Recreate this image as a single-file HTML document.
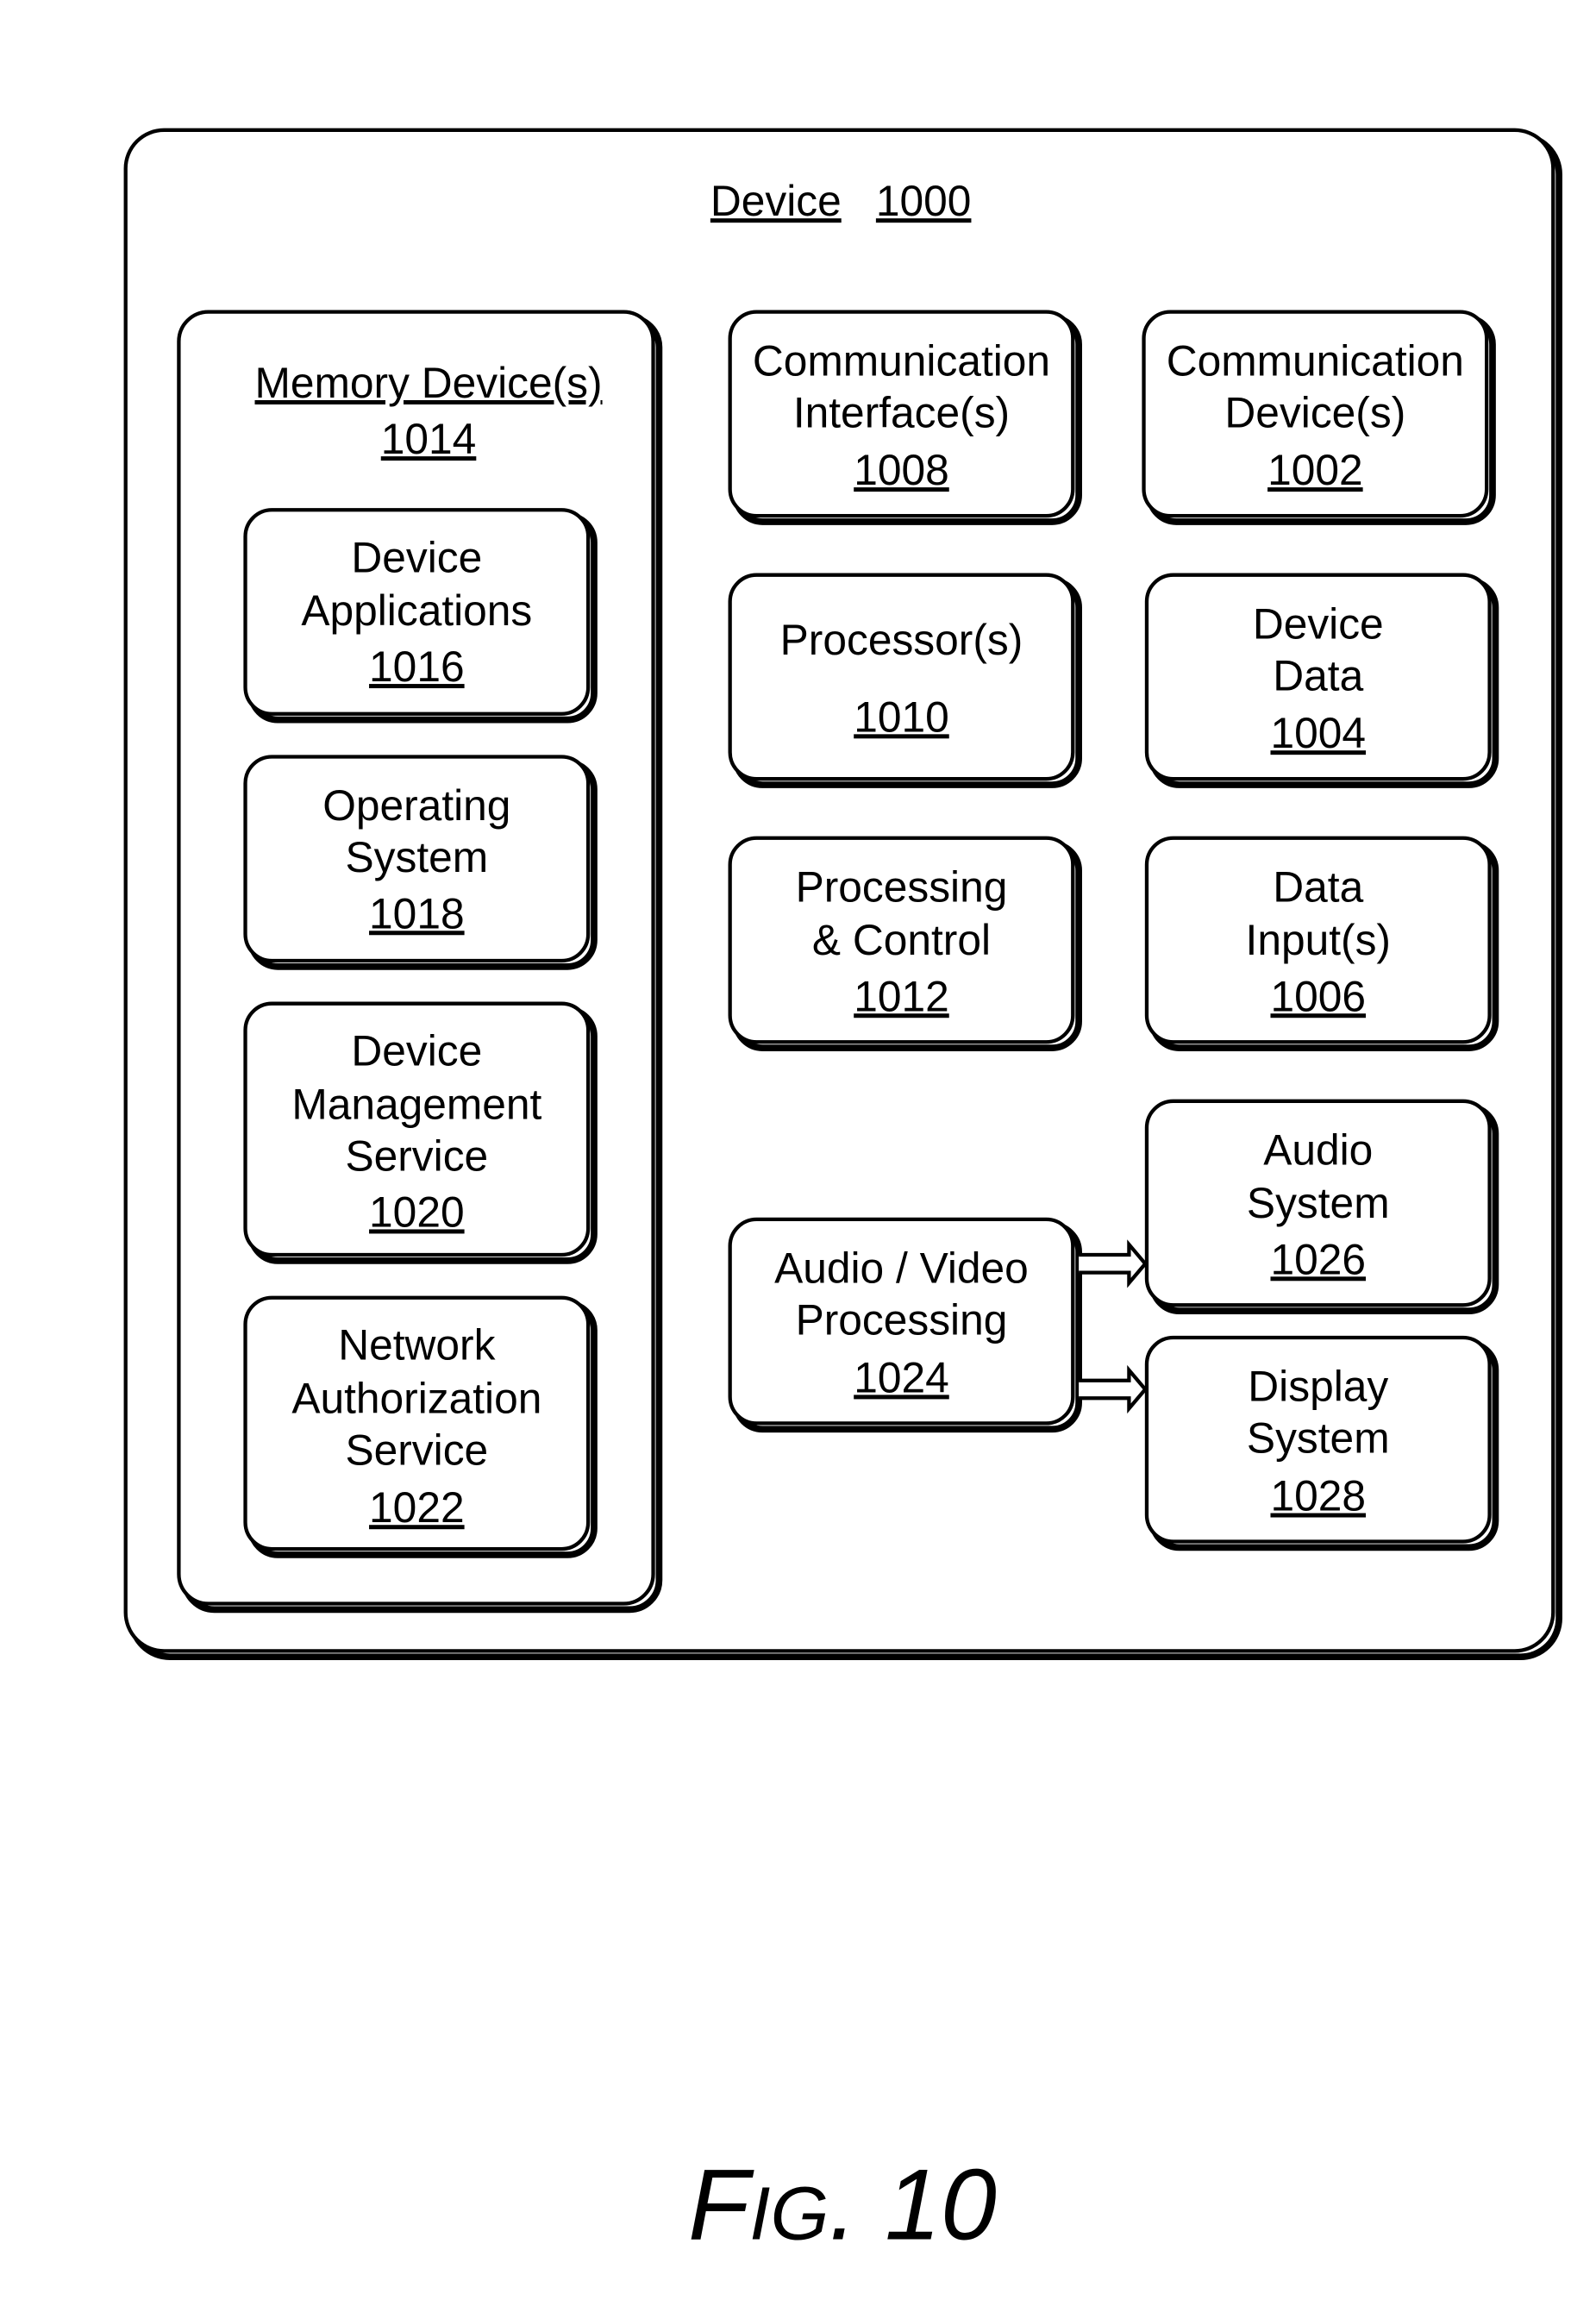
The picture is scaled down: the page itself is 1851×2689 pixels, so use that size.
<!DOCTYPE html>
<html><head><meta charset="utf-8"><style>
html,body{margin:0;padding:0;background:#fff;}
svg{display:block;}
text{font-family:"Liberation Sans",Arial,sans-serif;fill:#000;}
</style></head><body>
<svg width="1851" height="2689" viewBox="0 0 1080 1569" xmlns="http://www.w3.org/2000/svg">
<g fill="none" stroke="#000">
<rect x="89" y="92" width="966" height="1029" rx="26" stroke-width="4.5"/>
<rect x="85" y="88" width="966" height="1029" rx="26" fill="#fff" stroke-width="2.5"/>
<rect x="125" y="215" width="321" height="874" rx="20" stroke-width="4.5"/>
<rect x="121" y="211" width="321" height="874" rx="20" fill="#fff" stroke-width="2.5"/>
</g>
<g fill="none" stroke="#000">
<rect x="170" y="349" width="232" height="138" rx="18" stroke-width="4.5"/><rect x="166" y="345" width="232" height="138" rx="18" fill="#fff" stroke-width="2.5"/>
<rect x="170" y="516" width="232" height="138" rx="18" stroke-width="4.5"/><rect x="166" y="512" width="232" height="138" rx="18" fill="#fff" stroke-width="2.5"/>
<rect x="170" y="683" width="232" height="170" rx="18" stroke-width="4.5"/><rect x="166" y="679" width="232" height="170" rx="18" fill="#fff" stroke-width="2.5"/>
<rect x="170" y="882" width="232" height="170" rx="18" stroke-width="4.5"/><rect x="166" y="878" width="232" height="170" rx="18" fill="#fff" stroke-width="2.5"/>
<rect x="498" y="215" width="232" height="138" rx="18" stroke-width="4.5"/><rect x="494" y="211" width="232" height="138" rx="18" fill="#fff" stroke-width="2.5"/>
<rect x="498" y="393" width="232" height="138" rx="18" stroke-width="4.5"/><rect x="494" y="389" width="232" height="138" rx="18" fill="#fff" stroke-width="2.5"/>
<rect x="498" y="571" width="232" height="138" rx="18" stroke-width="4.5"/><rect x="494" y="567" width="232" height="138" rx="18" fill="#fff" stroke-width="2.5"/>
<rect x="498" y="829" width="232" height="138" rx="18" stroke-width="4.5"/><rect x="494" y="825" width="232" height="138" rx="18" fill="#fff" stroke-width="2.5"/>
<rect x="778" y="215" width="232" height="138" rx="18" stroke-width="4.5"/><rect x="774" y="211" width="232" height="138" rx="18" fill="#fff" stroke-width="2.5"/>
<rect x="780" y="393" width="232" height="138" rx="18" stroke-width="4.5"/><rect x="776" y="389" width="232" height="138" rx="18" fill="#fff" stroke-width="2.5"/>
<rect x="780" y="571" width="232" height="138" rx="18" stroke-width="4.5"/><rect x="776" y="567" width="232" height="138" rx="18" fill="#fff" stroke-width="2.5"/>
<rect x="780" y="749" width="232" height="138" rx="18" stroke-width="4.5"/><rect x="776" y="745" width="232" height="138" rx="18" fill="#fff" stroke-width="2.5"/>
<rect x="780" y="909" width="232" height="138" rx="18" stroke-width="4.5"/><rect x="776" y="905" width="232" height="138" rx="18" fill="#fff" stroke-width="2.5"/>
<path d="M730 849 H764 V842 L775 855 L764 868 V861 H730" fill="#fff" stroke-width="2.5"/>
<path d="M730 934 H764 V927 L775 940 L764 953 V946 H730" fill="#fff" stroke-width="2.5"/>
</g>
<g font-size="29" text-anchor="middle">
<text x="525" y="146" text-decoration="underline">Device</text>
<text x="625" y="146" text-decoration="underline">1000</text>
<text x="290" y="269" text-decoration="underline">Memory Device(s)</text>
<text x="290" y="307" text-decoration="underline">1014</text>

<text x="282" y="387">Device</text><text x="282" y="423">Applications</text><text x="282" y="461" text-decoration="underline">1016</text>
<text x="282" y="555">Operating</text><text x="282" y="590">System</text><text x="282" y="628" text-decoration="underline">1018</text>
<text x="282" y="721">Device</text><text x="282" y="757">Management</text><text x="282" y="792">Service</text><text x="282" y="830" text-decoration="underline">1020</text>
<text x="282" y="920">Network</text><text x="282" y="956">Authorization</text><text x="282" y="991">Service</text><text x="282" y="1030" text-decoration="underline">1022</text>

<text x="610" y="254">Communication</text><text x="610" y="289">Interface(s)</text><text x="610" y="328" text-decoration="underline">1008</text>
<text x="610" y="443">Processor(s)</text><text x="610" y="495" text-decoration="underline">1010</text>
<text x="610" y="610">Processing</text><text x="610" y="646">&amp; Control</text><text x="610" y="684" text-decoration="underline">1012</text>
<text x="610" y="868">Audio / Video</text><text x="610" y="903">Processing</text><text x="610" y="942" text-decoration="underline">1024</text>

<text x="890" y="254">Communication</text><text x="890" y="289">Device(s)</text><text x="890" y="328" text-decoration="underline">1002</text>
<text x="892" y="432">Device</text><text x="892" y="467">Data</text><text x="892" y="506" text-decoration="underline">1004</text>
<text x="892" y="610">Data</text><text x="892" y="646">Input(s)</text><text x="892" y="684" text-decoration="underline">1006</text>
<text x="892" y="788">Audio</text><text x="892" y="824">System</text><text x="892" y="862" text-decoration="underline">1026</text>
<text x="892" y="948">Display</text><text x="892" y="983">System</text><text x="892" y="1022" text-decoration="underline">1028</text>
</g>
<text x="570" y="1515" text-anchor="middle" font-style="italic" font-size="68">F<tspan font-size="51">IG</tspan>. 10</text>
</svg>
</body></html>
